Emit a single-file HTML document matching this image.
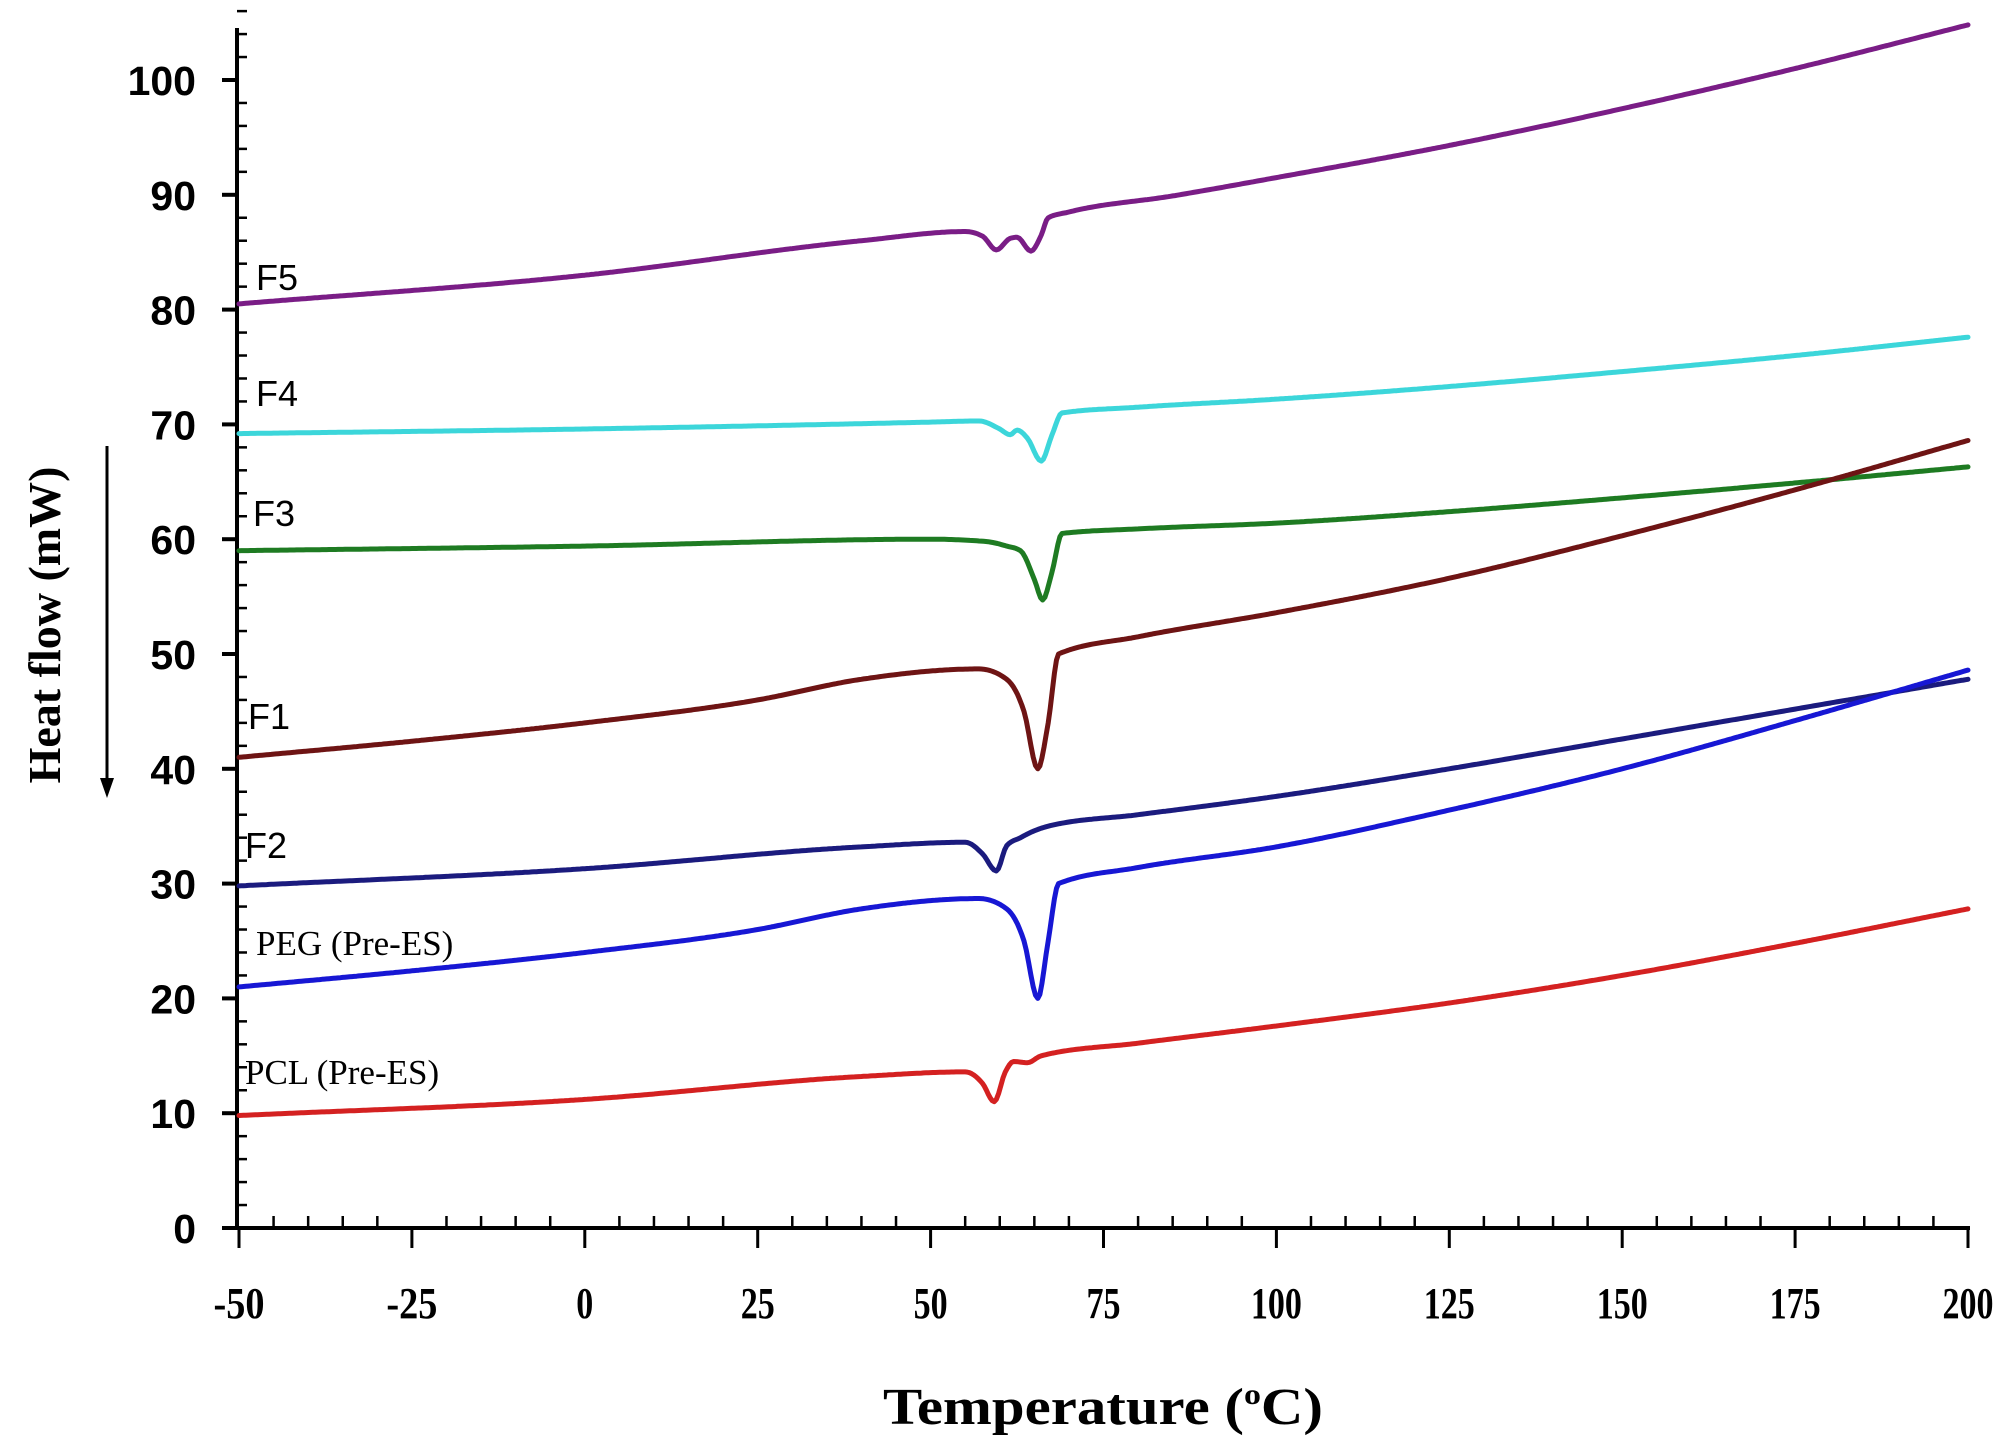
<!DOCTYPE html>
<html><head><meta charset="utf-8"><style>
html,body{margin:0;padding:0;background:#fff;}
svg{display:block;}
.yl{font-family:"Liberation Sans",Arial,sans-serif;font-weight:bold;font-size:41px;}
.xl{font-family:"Liberation Serif",serif;font-weight:bold;font-size:44px;}
.lab{font-family:"Liberation Sans",Arial,sans-serif;font-size:36px;}
.labs{font-family:"Liberation Serif",serif;font-size:35px;}
</style></head><body>
<svg id="s" width="2016" height="1455" viewBox="0 0 2016 1455" xmlns="http://www.w3.org/2000/svg">
<g id="axes" stroke="#000" fill="none"></g>
<g id="curves" fill="none" stroke-width="5" stroke-linejoin="round" stroke-linecap="round"></g>
<g id="texts"></g>
<text class="lab" x="256" y="290">F5</text>
<text class="lab" x="256" y="406">F4</text>
<text class="lab" x="253" y="526">F3</text>
<text class="lab" x="248" y="729">F1</text>
<text class="lab" x="245" y="858">F2</text>
<text class="labs" x="256" y="955">PEG (Pre-ES)</text>
<text class="labs" x="245" y="1084">PCL (Pre-ES)</text>
<text x="1103" y="1424" text-anchor="middle" font-family="Liberation Serif,serif" font-weight="bold" font-size="52" textLength="440" lengthAdjust="spacingAndGlyphs">Temperature (<tspan font-size="30" dy="-20">o</tspan><tspan dy="20">C)</tspan></text>
<text transform="translate(60,625) rotate(-90)" text-anchor="middle" font-family="Liberation Serif,serif" font-weight="bold" font-size="46">Heat flow (mW)</text>
<line x1="107" y1="446" x2="107" y2="780" stroke="#000" stroke-width="3"/>
<polygon points="100,778 114,778 107,798" fill="#000"/>
</svg>
<script>
const X=t=>239+(t+50)*6.916, Y=v=>1228-v*11.48;
const ns="http://www.w3.org/2000/svg";
function el(p,tag,a,txt){const e=document.createElementNS(ns,tag);for(const k in a)e.setAttribute(k,a[k]);if(txt!==undefined)e.textContent=txt;document.getElementById(p).appendChild(e);return e;}
el('axes','line',{x1:237,y1:28,x2:237,y2:1230,'stroke-width':4});
el('axes','line',{x1:222,y1:1228,x2:1970,y2:1228,'stroke-width':4});
for(let v=0;v<=106;v+=2){const y=Y(v);if(v%10==0){el('axes','line',{x1:222,y1:y,x2:237,y2:y,'stroke-width':4});el('texts','text',{class:'yl',x:196,y:y+15,'text-anchor':'end'},String(v));}else el('axes','line',{x1:237,y1:y,x2:247,y2:y,'stroke-width':2.5});}
for(let t=-50;t<=200;t+=5){const x=X(t);if(t%25==0){el('axes','line',{x1:x,y1:1228,x2:x,y2:1248,'stroke-width':3});const tx=el('texts','text',{class:'xl',x:x,y:1318,'text-anchor':'middle'},String(t));const w=String(t).length*17;tx.setAttribute('textLength',w);tx.setAttribute('lengthAdjust','spacingAndGlyphs');}else el('axes','line',{x1:x,y1:1228,x2:x,y2:1216,'stroke-width':2.5});}
const S=[
['#7a1d86',[[-50,80.5],[0,83],[40,86],[55,86.8],[57.5,86.4],[59.5,85.2],[61.5,86.2],[62.5,86.3],[64.5,85.1],[66,86.5],[67,88],[70,88.5],[85,89.9],[100,91.5],[125,94.3],[150,97.5],[175,101],[200,104.8]]],
['#3cd6da',[[-50,69.2],[0,69.6],[50,70.2],[57,70.3],[60,69.6],[61.5,69.1],[62.5,69.5],[64,68.8],[66,66.8],[67.5,69],[69,71],[80,71.5],[100,72.2],[125,73.3],[150,74.6],[175,76],[200,77.6]]],
['#1e7b22',[[-50,59],[0,59.4],[50,60],[58,59.8],[61,59.4],[63,59],[65,56.5],[66.2,54.7],[67.5,57],[69,60.5],[80,60.9],[100,61.4],[125,62.4],[150,63.6],[175,64.9],[200,66.3]]],
['#6e1414',[[-50,41],[-25,42.4],[0,44],[25,46],[40,47.8],[57,48.7],[61,47.8],[63.5,45],[65.5,40],[67,44],[68.5,50],[80,51.5],[100,53.6],[125,56.6],[150,60.3],[175,64.3],[200,68.6]]],
['#1b1b7e',[[-50,29.8],[0,31.3],[40,33.2],[55,33.6],[57.5,32.6],[59.5,31.1],[61,33.3],[63,34],[65,34.6],[67,35],[80,36],[100,37.6],[125,40],[150,42.6],[175,45.2],[200,47.8]]],
['#1717d4',[[-50,21],[-25,22.4],[0,24],[25,26],[40,27.8],[57,28.7],[61,27.8],[63.5,25],[65.5,20],[67,25],[68.5,30],[80,31.4],[100,33.2],[125,36.4],[150,40],[175,44.2],[200,48.6]]],
['#d42121',[[-50,9.8],[0,11.2],[40,13.2],[55,13.6],[57.5,12.6],[59.2,11],[60.8,13.6],[62,14.5],[64,14.4],[66,15],[80,16.1],[100,17.6],[125,19.6],[150,22],[175,24.8],[200,27.8]]]
];
function steffen(pts){const n=pts.length,xs=pts.map(p=>p[0]),ys=pts.map(p=>p[1]);const d=[],h=[],m=[];
for(let i=0;i<n-1;i++){h.push(xs[i+1]-xs[i]);d.push((ys[i+1]-ys[i])/h[i]);}
m[0]=d[0];m[n-1]=d[n-2];
for(let i=1;i<n-1;i++){const p=(d[i-1]*h[i]+d[i]*h[i-1])/(h[i-1]+h[i]);m[i]=(Math.sign(d[i-1])+Math.sign(d[i]))*Math.min(Math.abs(d[i-1]),Math.abs(d[i]),0.5*Math.abs(p));}
const out=[];for(let i=0;i<n-1;i++){const H=h[i];const N=Math.max(4,Math.ceil(H*3));for(let k=0;k<N;k++){const t=k/N,t2=t*t,t3=t2*t;
const y=(2*t3-3*t2+1)*ys[i]+(t3-2*t2+t)*H*m[i]+(-2*t3+3*t2)*ys[i+1]+(t3-t2)*H*m[i+1];out.push([xs[i]+t*H,y]);}}
out.push(pts[n-1]);return out;}
for(const [c,pts] of S){const P=steffen(pts);const d='M'+P.map(p=>X(p[0]).toFixed(1)+','+Y(p[1]).toFixed(1)).join(' L');el('curves','path',{d:d,stroke:c});}
</script>
</body></html>
